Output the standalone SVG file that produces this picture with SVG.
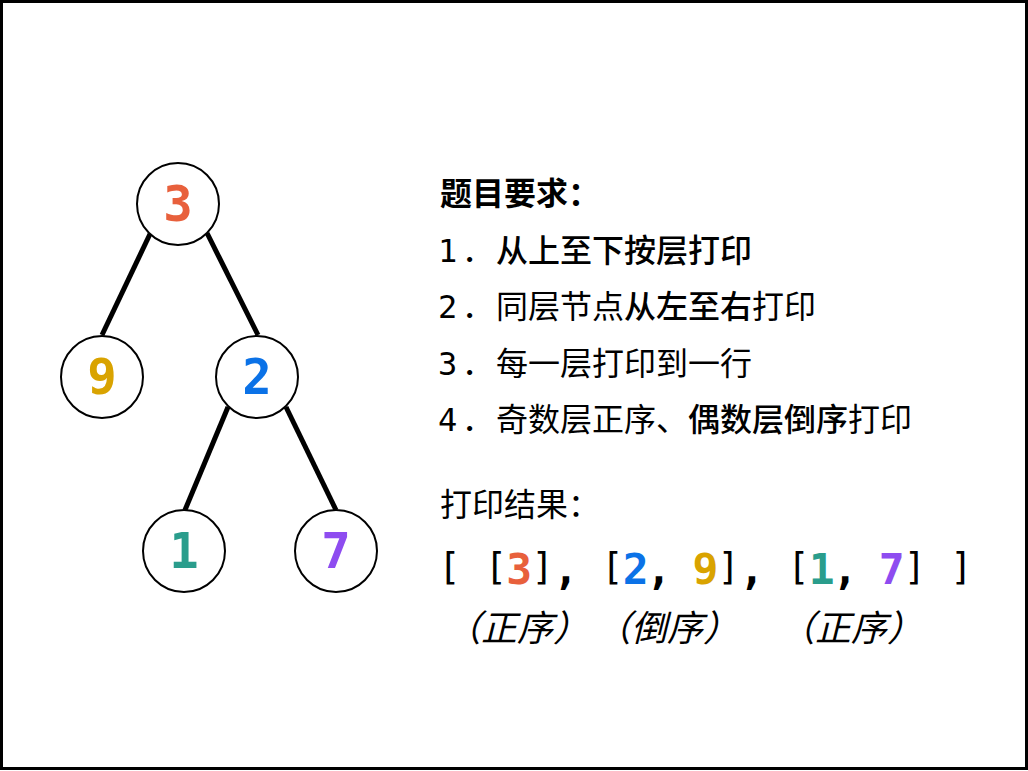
<svg xmlns="http://www.w3.org/2000/svg" width="1028" height="771" viewBox="0 0 1028 771">
<style>
.node circle{fill:#fff;stroke:#000;stroke-width:2}
.nd{font-family:"DejaVu Sans Mono",monospace;font-weight:bold;font-size:49px;text-anchor:middle}
.edge{stroke:#000;stroke-width:5;stroke-linecap:butt}
.cjk{font-family:"Noto Sans CJK SC","Noto Sans",sans-serif;font-size:32px;fill:#000}
.b{font-weight:bold}
.m{font-weight:500}
.num{font-family:"DejaVu Sans Mono",monospace;font-size:32px;fill:#000}
.br{font-family:"DejaVu Sans Mono",monospace;font-size:37px;text-anchor:middle;fill:#000}
.cm{font-family:"DejaVu Sans Mono",monospace;font-weight:bold;font-size:42px;text-anchor:middle;fill:#000}
.dg{font-family:"DejaVu Sans Mono",monospace;font-weight:bold;font-size:43px;text-anchor:middle}
.lbl{font-family:"Noto Sans CJK SC",sans-serif;font-size:36px;font-style:italic;text-anchor:middle;fill:#000}
.c3{fill:#E8603C}.c9{fill:#D9A300}.c2{fill:#0B72E7}.c1{fill:#2A9D8C}.c7{fill:#8E4CF0}
</style>
<rect x="1.5" y="1.5" width="1025" height="767" fill="#fff" stroke="#000" stroke-width="3"/>
<g id="connectors">
<line class="edge" x1="150" y1="234" x2="102" y2="335"/>
<line class="edge" x1="207" y1="233" x2="258" y2="335"/>
<line class="edge" x1="228" y1="407" x2="185" y2="510"/>
<line class="edge" x1="286" y1="407" x2="336" y2="510"/>
</g>
<g id="node3" class="node"><circle cx="178" cy="204" r="41"/><text class="nd c3" x="178" y="221">3</text></g>
<g id="node9" class="node"><circle cx="102" cy="377" r="41"/><text class="nd c9" x="102" y="394">9</text></g>
<g id="node2" class="node"><circle cx="257" cy="377" r="41"/><text class="nd c2" x="257" y="394">2</text></g>
<g id="node1" class="node"><circle cx="184" cy="551" r="41"/><text class="nd c1" x="184" y="568">1</text></g>
<g id="node7" class="node"><circle cx="336" cy="551" r="41"/><text class="nd c7" x="336" y="568">7</text></g>
<g id="requirements">
<text class="cjk b" x="440" y="205">题目要求：</text>
<text class="num" x="438" y="261.5">1</text><text class="cjk" x="462" y="261.5">．</text>
<text class="cjk m" x="496" y="261.5">从上至下按层打印</text>
<text class="num" x="438" y="318">2</text><text class="cjk" x="462" y="318">．</text>
<text class="cjk" x="496" y="318">同层节点<tspan class="m">从左至右</tspan>打印</text>
<text class="num" x="438" y="374.5">3</text><text class="cjk" x="462" y="374.5">．</text>
<text class="cjk" x="496" y="374.5">每一层打印到一行</text>
<text class="num" x="438" y="430.5">4</text><text class="cjk" x="462" y="430.5">．</text>
<text class="cjk" x="496" y="430.5">奇数层正序、<tspan class="m">偶数层倒序</tspan>打印</text>
</g>
<g id="result">
<text class="cjk" x="440" y="516">打印结果：</text>
<text class="br" x="449.5" y="580">[</text>
<text class="br" x="496" y="580">[</text>
<text class="dg c3" x="519.3" y="583.5">3</text>
<text class="br" x="542.6" y="580">]</text>
<text class="cm" x="565.9" y="584">,</text>
<text class="br" x="612.4" y="580">[</text>
<text class="dg c2" x="635.7" y="583.5">2</text>
<text class="cm" x="658.9" y="584">,</text>
<text class="dg c9" x="705.5" y="583.5">9</text>
<text class="br" x="728.7" y="580">]</text>
<text class="cm" x="752" y="584">,</text>
<text class="br" x="798.5" y="580">[</text>
<text class="dg c1" x="821.8" y="583.5">1</text>
<text class="cm" x="845.1" y="584">,</text>
<text class="dg c7" x="891.6" y="583.5">7</text>
<text class="br" x="914.9" y="580">]</text>
<text class="br" x="961.4" y="580">]</text>
<text class="lbl" x="517" y="641">（正序）</text>
<text class="lbl" x="667" y="641">（倒序）</text>
<text class="lbl" x="851" y="641">（正序）</text>
</g>
</svg>
